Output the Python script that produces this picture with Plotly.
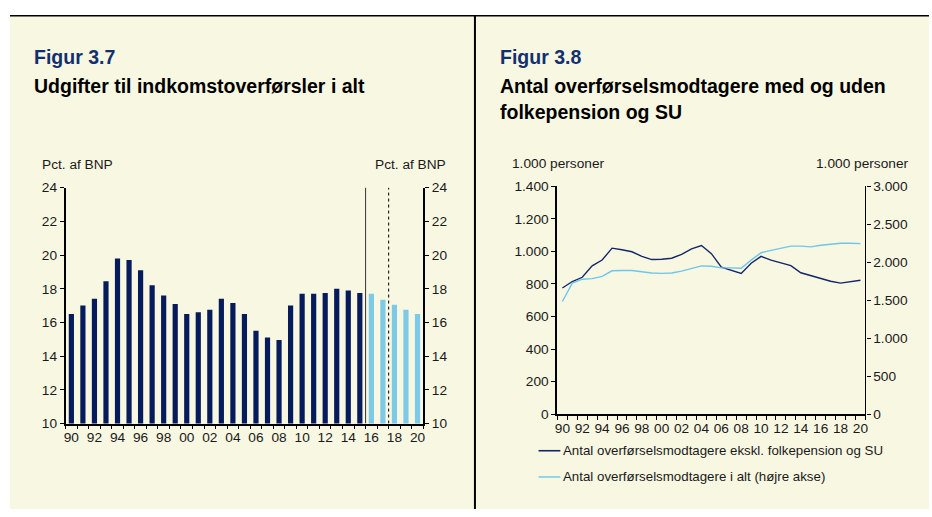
import plotly.graph_objects as go

# ---- data -------------------------------------------------------------
years = list(range(1990, 2021))
year_labels = [str(y) for y in years]
tick_text = [str(y)[2:] if y % 2 == 0 else "" for y in years]

# Figur 3.7: expenditure on income transfers, pct. of GDP
udgifter_hist_years = year_labels[:26]          # 1990-2015
udgifter_hist = [16.5, 17.0, 17.4, 18.45, 19.8, 19.7, 19.1, 18.2, 17.6, 17.1,
                 16.5, 16.6, 16.75, 17.4, 17.15, 16.5, 15.5, 15.1, 14.95, 17.0,
                 17.7, 17.7, 17.75, 18.0, 17.9, 17.75]
udgifter_prog_years = year_labels[26:]          # 2016-2020
udgifter_prog = [17.7, 17.35, 17.05, 16.75, 16.5]

# Figur 3.8: recipients of transfers, 1.000 persons
modt_ekskl = [775, 815, 841, 911, 947, 1020, 1010, 998, 970, 950, 952, 958, 982,
              1016, 1036, 986, 903, 885, 865, 927, 970, 947, 931, 913, 869, 851,
              831, 817, 805, 813, 823]
modt_alt = [1483, 1726, 1777, 1785, 1815, 1888, 1892, 1892, 1875, 1858, 1854,
            1858, 1884, 1918, 1952, 1947, 1926, 1926, 1922, 2028, 2126, 2156,
            2186, 2212, 2212, 2203, 2224, 2237, 2250, 2250, 2246]

legend_names = ["Antal overførselsmodtagere ekskl. folkepension og SU",
                "Antal overførselsmodtagere i alt (højre akse)"]

# ---- styling ----------------------------------------------------------
W, H = 932, 517
CREAM = "#F8F7E2"
NAVY = "#061B5C"
LIGHT = "#7CC9E8"
LINE_DARK = "#14266A"
LINE_LIGHT = "#6EC6EA"
FONT = "Liberation Sans, Arial, sans-serif"
SMALL = 13.7
LEGEND = 13.3
BIG = 19.5
TICKFONT = dict(family=FONT, size=SMALL, color="#1a1a1a")


def px(x):
    return x / W


def py(y):
    return 1 - y / H


fig = go.Figure()

# left panel bars
fig.add_trace(go.Bar(x=udgifter_hist_years, y=udgifter_hist, marker_color=NAVY,
                     marker_line_width=0, width=0.45, xaxis="x", yaxis="y",
                     hoverinfo="x+y"))
fig.add_trace(go.Bar(x=udgifter_prog_years, y=udgifter_prog, marker_color=LIGHT,
                     marker_line_width=0, width=0.45, xaxis="x", yaxis="y2",
                     hoverinfo="x+y"))

# right panel lines
fig.add_trace(go.Scatter(x=year_labels, y=modt_ekskl, mode="lines",
                         line=dict(color=LINE_DARK, width=1.4),
                         xaxis="x2", yaxis="y3", name=legend_names[0]))
fig.add_trace(go.Scatter(x=year_labels, y=modt_alt, mode="lines",
                         line=dict(color=LINE_LIGHT, width=1.4),
                         xaxis="x2", yaxis="y4", name=legend_names[1]))

x_common = dict(type="category", categoryorder="array", categoryarray=year_labels,
                range=[-0.5, 30.5], tickmode="array", tickvals=year_labels,
                ticktext=tick_text, tickson="boundaries", ticks="outside",
                ticklen=4, tickcolor="black", showline=True, linecolor="black",
                showgrid=False, zeroline=False, tickfont=TICKFONT, tickangle=0,
                fixedrange=True)
y_common = dict(ticks="outside", ticklen=4, tickcolor="black", showline=True,
                linecolor="black", showgrid=False, zeroline=False,
                tickfont=TICKFONT, fixedrange=True)

left_dom = [px(63), px(423)]
left_ydom = [py(429), py(186)]
right_dom = [px(558), px(868)]
right_ydom = [py(419.3), py(184.7)]

fig.update_layout(
    width=W, height=H,
    margin=dict(l=0, r=0, t=0, b=0),
    paper_bgcolor="white",
    plot_bgcolor="rgba(0,0,0,0)",
    separators=",.",
    showlegend=False,
    barmode="overlay",
    xaxis=dict(x_common, domain=left_dom, anchor="y", linewidth=1.5, tickwidth=1.2),
    yaxis=dict(y_common, domain=left_ydom, anchor="x", range=[10, 24], dtick=2,
               linewidth=1.5, tickwidth=1.2),
    yaxis2=dict(y_common, overlaying="y", side="right", anchor="x",
                range=[10, 24], dtick=2, linewidth=1.5, tickwidth=1.2),
    xaxis2=dict(x_common, domain=right_dom, anchor="y3", linewidth=2, tickwidth=1),
    yaxis3=dict(y_common, domain=right_ydom, anchor="x2", range=[0, 1400],
                dtick=200, tickformat=",d", linewidth=2, tickwidth=1),
    yaxis4=dict(y_common, overlaying="y3", side="right", anchor="x2",
                range=[0, 3000], dtick=500, tickformat=",d", linewidth=1.2,
                tickwidth=1),
)

shapes = [
    # cream background panel
    dict(type="rect", xref="paper", yref="paper", x0=px(7), x1=1, y0=0, y1=py(9),
         fillcolor=CREAM, line_width=0, layer="below"),
    # top rule and panel divider
    dict(type="line", xref="paper", yref="paper", x0=px(7), x1=1, y0=py(9), y1=py(9),
         line=dict(color="black", width=1.5)),
    dict(type="line", xref="paper", yref="paper", x0=px(475), x1=px(475), y0=0,
         y1=py(9), line=dict(color="black", width=2)),
    # forecast separators in left panel
    dict(type="line", xref="x", yref="y", x0=25.5, x1=25.5, y0=10, y1=24,
         line=dict(color="#333333", width=1)),
    dict(type="line", xref="x", yref="y", x0=27.5, x1=27.5, y0=10, y1=24,
         line=dict(color="black", width=1, dash="dot")),
    # legend samples
    dict(type="line", xref="paper", yref="paper", x0=px(539), x1=px(561),
         y0=py(457), y1=py(457), line=dict(color=LINE_DARK, width=1.6)),
    dict(type="line", xref="paper", yref="paper", x0=px(539), x1=px(561),
         y0=py(484), y1=py(484), line=dict(color=LINE_LIGHT, width=1.4)),
]
fig.update_layout(shapes=shapes)


def label(text, x, y, size=SMALL, color="#1a1a1a", bold=False, anchor="left"):
    if bold:
        text = "<b>" + text + "</b>"
    return dict(text=text, xref="paper", yref="paper", x=px(x), y=py(y),
                xanchor=anchor, yanchor="middle", showarrow=False,
                font=dict(family=FONT, size=size, color=color))


annotations = [
    label("Figur 3.7", 29, 52, size=BIG, color="#13306E", bold=True),
    label("Udgifter til indkomstoverførsler i alt", 29, 81, size=BIG,
          color="black", bold=True),
    label("Pct. af BNP", 37, 162),
    label("Pct. af BNP", 448, 162, anchor="right"),
    label("Figur 3.8", 498, 52, size=BIG, color="#13306E", bold=True),
    label("Antal overførselsmodtagere med og uden", 498, 81, size=BIG,
          color="black", bold=True),
    label("folkepension og SU", 498, 108, size=BIG, color="black", bold=True),
    label("1.000 personer", 510, 161),
    label("1.000 personer", 914, 161, anchor="right"),
    label(legend_names[0], 562, 457, size=LEGEND),
    label(legend_names[1], 562, 484, size=LEGEND),
]
fig.update_layout(annotations=annotations)

fig.write_html("out.html")
